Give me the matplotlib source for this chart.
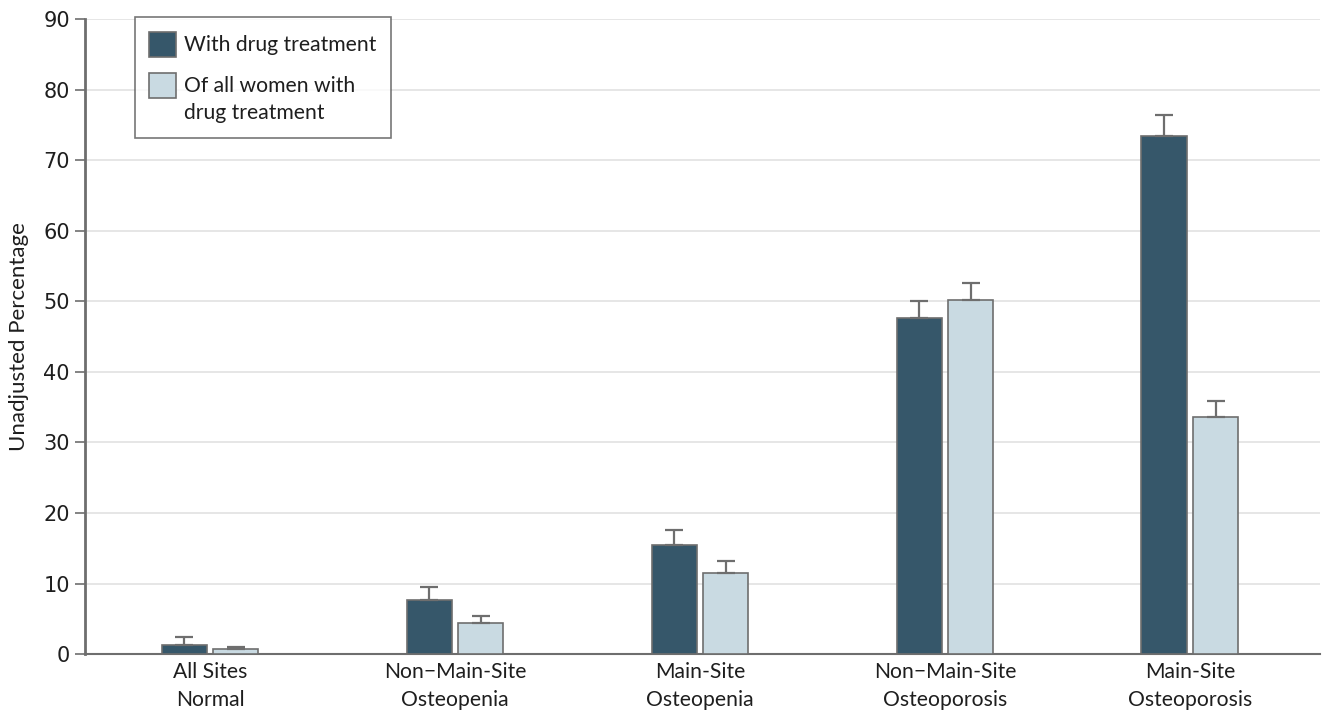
import numpy as np
import matplotlib
matplotlib.use("Agg")
import matplotlib.pyplot as plt
from matplotlib.patches import Rectangle
from matplotlib.legend_handler import HandlerPatch

plt.rcParams["font.family"] = ["Lato", "DejaVu Sans"]

categories = ["All Sites\nNormal", "Non\u2212Main-Site\nOsteopenia", "Main-Site\nOsteopenia",
              "Non\u2212Main-Site\nOsteoporosis", "Main-Site\nOsteoporosis"]
series_labels = ["With drug treatment", "Of all women with\ndrug treatment"]
with_drug = [1.3, 7.6, 15.4, 47.6, 73.4]
with_drug_err = [1.1, 1.9, 2.2, 2.4, 3.0]
of_all = [0.7, 4.4, 11.5, 50.2, 33.6]
of_all_err = [0.3, 1.0, 1.7, 2.4, 2.3]

dark = "#36576a"
light = "#c9dae2"
edge = "#6e6e6e"
txt = "#1e1e1e"

fig = plt.figure(figsize=(13.29, 7.18), dpi=100)
ax = fig.add_axes([0.064, 0.089, 0.929, 0.8845])

x = np.arange(len(categories))
w = 0.185
off = 0.105
err_kw = dict(ecolor=edge, elinewidth=1.6, capsize=6.5, capthick=1.6)
b1 = ax.bar(x - off, with_drug, w, color=dark, edgecolor=edge, linewidth=1.2,
            yerr=[np.zeros(5), with_drug_err], error_kw=err_kw, zorder=3)
b2 = ax.bar(x + off, of_all, w, color=light, edgecolor=edge, linewidth=1.2,
            yerr=[np.zeros(5), of_all_err], error_kw=err_kw, zorder=3)

ax.set_xlim(-0.51, 4.53)
ax.set_ylim(0, 90)
ax.set_yticks(range(0, 91, 10))
ax.set_yticklabels([str(v) for v in range(0, 91, 10)], family="DejaVu Sans")
ax.set_xticks(x)
ax.set_xticklabels(categories, fontsize=15.2, color=txt, linespacing=1.45)
ax.tick_params(axis="x", length=0, pad=6)
ax.tick_params(axis="y", length=7, width=1.2, color=edge, labelsize=15,
               labelcolor=txt, pad=4)
ax.set_ylabel("Unadjusted Percentage", fontsize=16, color=txt, labelpad=10)

ax.grid(axis="y", color="#e2e2e2", linewidth=1.2, zorder=0)
for s in ["top", "right"]:
    ax.spines[s].set_visible(False)
ax.spines["left"].set_color(edge)
ax.spines["left"].set_linewidth(2)
ax.spines["bottom"].set_color(edge)
ax.spines["bottom"].set_linewidth(1.5)


def swatch(shift):
    # raise the swatch so a two-line label keeps it level with its first line
    def make(legend, orig_handle, xdescent, ydescent, width, height, fontsize):
        return Rectangle((-xdescent, -ydescent + shift * fontsize), width, height)
    return HandlerPatch(patch_func=make)


handles = [b1.patches[0], b2.patches[0]]
leg = ax.legend(handles, series_labels, loc="upper left", bbox_to_anchor=(0.0315, 1.02),
                fontsize=15.2, frameon=True, fancybox=False, edgecolor="#555555",
                handlelength=1.28, handleheight=1.45, handletextpad=0.35,
                labelspacing=0.9, borderpad=0.7,
                handler_map={handles[0]: swatch(0.0), handles[1]: swatch(0.7)})
leg.get_frame().set_linewidth(1.2)
for t in leg.get_texts():
    t.set_color(txt)
    t.set_linespacing(1.45)

fig.savefig("out.png", dpi=100)
